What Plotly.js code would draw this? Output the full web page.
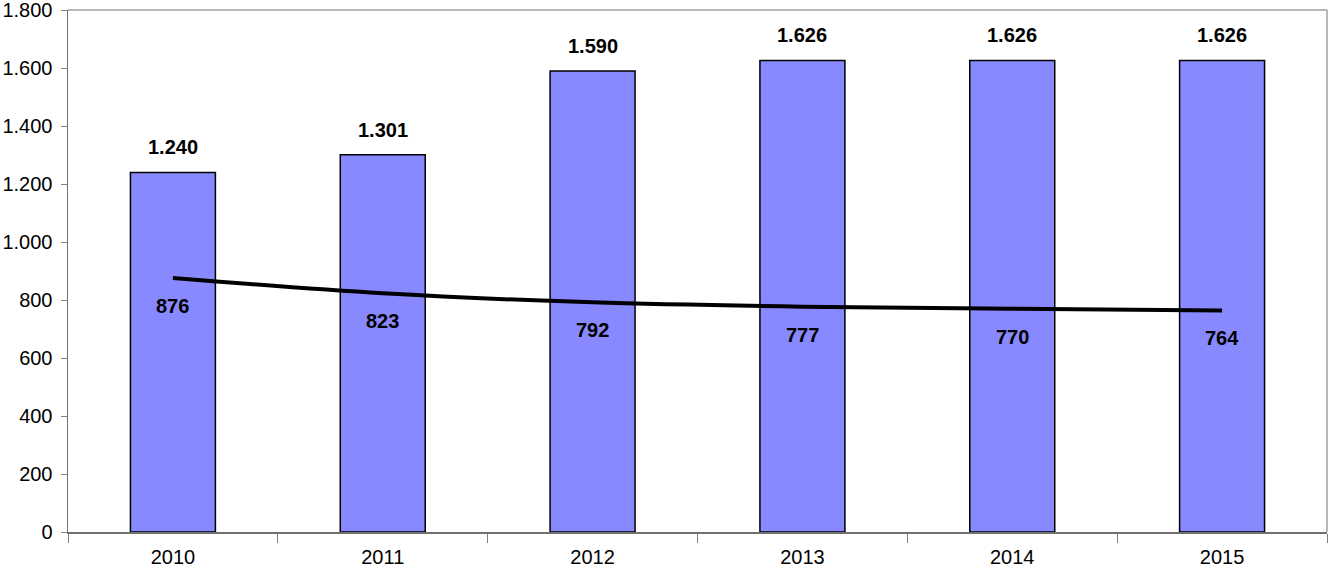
<!DOCTYPE html>
<html><head><meta charset="utf-8">
<script src="https://cdn.plot.ly/plotly-3.0.1.min.js"></script>
<style>html,body{margin:0;padding:0;background:#fff}#c{width:1329px;height:575px}</style>
</head><body><div id="c"></div>
<script>
const years = ['2010','2011','2012','2013','2014','2015'];
const barValues = [1240,1301,1590,1626,1626,1626];
const lineValues = [876,823,792,777,770,764];
const yTicks = [0,200,400,600,800,1000,1200,1400,1600,1800];

function fmt(v){ return String(v).replace(/\B(?=(\d{3})+(?!\d))/g,'.'); }
const idx = years.map((_,i)=>i);
const bounds = [-0.5].concat(idx.map(i=>i+0.5));

const F = 'Arial, Liberation Sans, sans-serif';
const annotations = [];
idx.forEach(i=>{
  annotations.push({x:i,y:barValues[i],xref:'x',yref:'y',text:fmt(barValues[i]),showarrow:false,yanchor:'bottom',yshift:12,
    font:{family:F,size:20,color:'#000',weight:'bold'}});
  annotations.push({x:i,y:lineValues[i],xref:'x',yref:'y',text:fmt(lineValues[i]),showarrow:false,yanchor:'middle',yshift:-28,
    font:{family:F,size:20,color:'#000',weight:'bold'}});
});

const data = [
  {type:'bar',x:idx,y:barValues,width:0.405,marker:{color:'#8888FF',line:{color:'#000',width:1.5}},hoverinfo:'none'},
  {type:'scatter',mode:'lines',x:idx,y:lineValues,line:{color:'#000',width:4,shape:'spline',smoothing:1},hoverinfo:'none'}
];

const layout = {
  width:1329,height:575,
  margin:{l:68,r:2,t:10,b:43},
  paper_bgcolor:'#fff',plot_bgcolor:'#fff',
  showlegend:false,
  separators:',.',
  font:{family:F,size:20,color:'#000'},
  xaxis:{range:[-0.5,5.5],tickvals:idx,ticktext:years,ticks:'outside',ticklen:0,ticklabelstandoff:6,
    minor:{tickvals:bounds,ticks:'outside',ticklen:9,tickcolor:'#808080',tickwidth:1,showgrid:false},
    showline:true,linecolor:'#707070',linewidth:1.5,showgrid:false,zeroline:false,
    tickfont:{size:20},fixedrange:true},
  yaxis:{range:[0,1800],tickmode:'linear',tick0:yTicks[0],dtick:yTicks[1]-yTicks[0],tickformat:',d',
    ticks:'outside',ticklen:6,tickcolor:'#808080',ticklabelstandoff:4,ticklabeloverflow:'allow',
    showline:true,linecolor:'#707070',linewidth:1.5,showgrid:false,zeroline:false,tickfont:{size:20},fixedrange:true},
  shapes:[
    {type:'line',xref:'paper',yref:'paper',x0:0,x1:1,y0:1,y1:1,line:{color:'#a0a0a0',width:1.5}},
    {type:'line',xref:'paper',yref:'paper',x0:1,x1:1,y0:0,y1:1,line:{color:'#a0a0a0',width:1.5}}
  ],
  annotations:annotations
};
Plotly.newPlot('c',data,layout,{displayModeBar:false,staticPlot:true});
</script></body></html>
